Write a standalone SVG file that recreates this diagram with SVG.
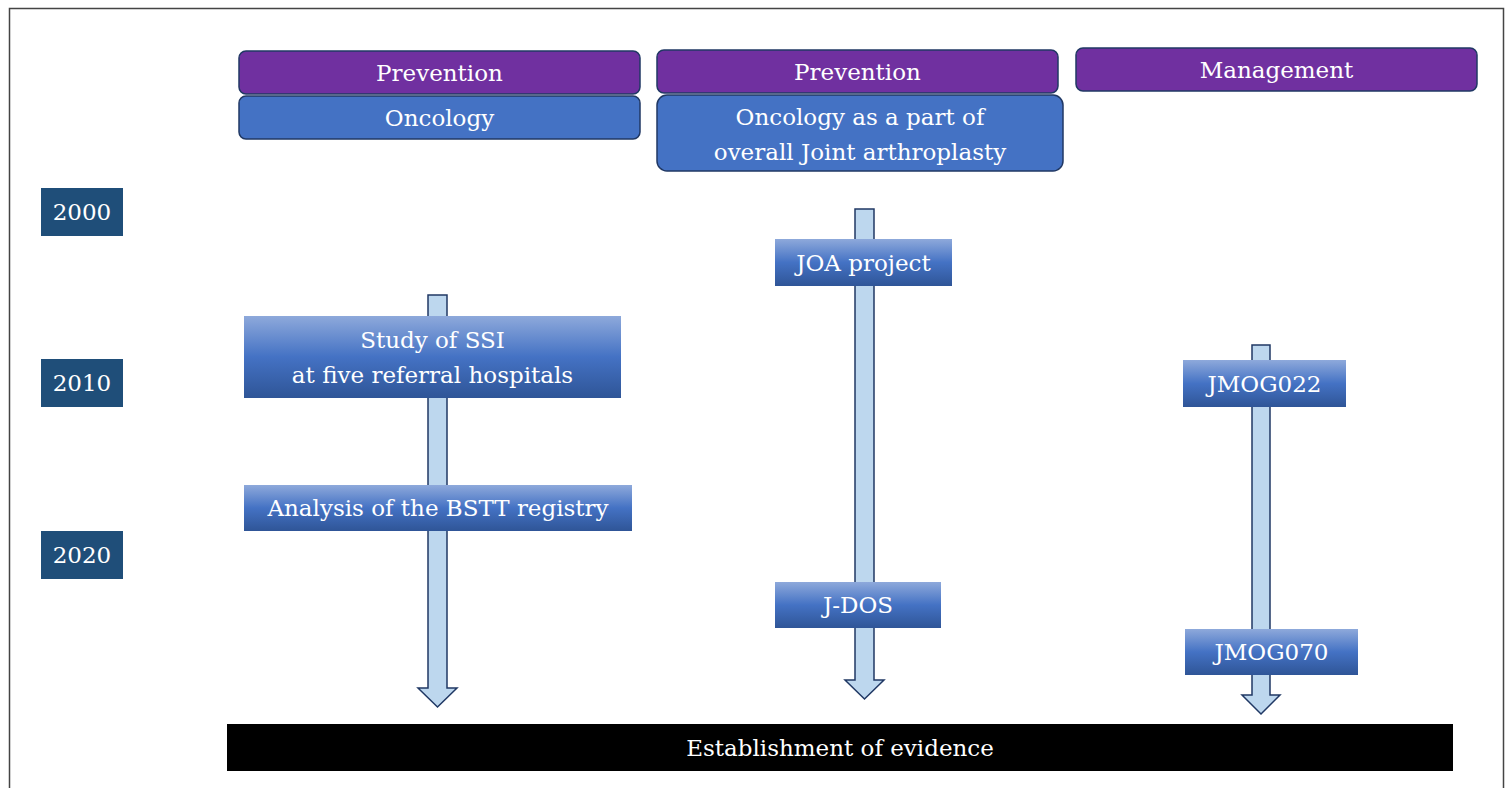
<svg xmlns="http://www.w3.org/2000/svg" width="1510" height="788" viewBox="0 0 1510 788">
<defs>
<linearGradient id="g" x1="0" y1="0" x2="0" y2="1">
<stop offset="0" stop-color="#8EA9DB"/>
<stop offset="0.5" stop-color="#4472C4"/>
<stop offset="1" stop-color="#2F5597"/>
</linearGradient>
<style>
.t{font-family:'DejaVu Serif',serif;font-size:23px;fill:#fff;text-anchor:middle;dominant-baseline:central}
.hp{fill:#7030A0;stroke:#203864;stroke-width:1.5}
.hb{fill:#4472C4;stroke:#203864;stroke-width:1.5}
.yr{fill:#1F4E79}
.ev{fill:url(#g)}
.arr{fill:#BDD7EE;stroke:#203864;stroke-width:1.5}
</style>
</defs>
<rect x="0" y="0" width="1510" height="788" fill="#fff"/>
<path d="M9.5 790 V8.5 H1503.5 V790" fill="none" stroke="#444" stroke-width="1.5"/>

<g id="connectors">
<path class="arr" d="M428 295 H447 V688 H457 L437.5 707 L418 688 H428 Z"/>
<path class="arr" d="M855 209 H874 V680 H884 L864.5 699 L845 680 H855 Z"/>
<path class="arr" d="M1252 345 H1270 V695 H1280 L1261 714 L1242 695 H1252 Z"/>
</g>

<g class="t">
<g id="h1"><rect class="hp" x="239" y="51" width="401" height="43" rx="7"/><text x="439.5" y="73">Prevention</text></g>
<g id="h2"><rect class="hp" x="657" y="50" width="401" height="43" rx="7"/><text x="857.5" y="72">Prevention</text></g>
<g id="h3"><rect class="hp" x="1076" y="48" width="401" height="43" rx="7"/><text x="1276.5" y="70">Management</text></g>
<g id="c1"><rect class="hb" x="239" y="96" width="401" height="43" rx="7"/><text x="439.5" y="118">Oncology</text></g>
<g id="c2"><rect class="hb" x="657" y="95" width="406" height="76" rx="10"/><text x="860" y="117">Oncology as a part of</text><text x="860" y="152">overall Joint arthroplasty</text></g>

<g id="y2000"><rect class="yr" x="41" y="188" width="82" height="48"/><text x="82" y="212">2000</text></g>
<g id="y2010"><rect class="yr" x="41" y="359" width="82" height="48"/><text x="82" y="383">2010</text></g>
<g id="y2020"><rect class="yr" x="41" y="531" width="82" height="48"/><text x="82" y="555">2020</text></g>

<g id="ssi"><rect class="ev" x="244" y="316" width="377" height="82"/><text x="432.5" y="340">Study of SSI</text><text x="432.5" y="375">at five referral hospitals</text></g>
<g id="bstt"><rect class="ev" x="244" y="485" width="388" height="46"/><text x="438" y="508">Analysis of the BSTT registry</text></g>
<g id="joa"><rect class="ev" x="775" y="239" width="177" height="47"/><text x="863.5" y="263">JOA project</text></g>
<g id="jdos"><rect class="ev" x="775" y="582" width="166" height="46"/><text x="858" y="605">J-DOS</text></g>
<g id="jmog022"><rect class="ev" x="1183" y="360" width="163" height="47"/><text x="1264.5" y="384">JMOG022</text></g>
<g id="jmog070"><rect class="ev" x="1185" y="629" width="173" height="46"/><text x="1271.5" y="652">JMOG070</text></g>

<g id="evidence"><rect x="227" y="724" width="1226" height="47" fill="#000"/><text x="840" y="748">Establishment of evidence</text></g>
</g>
</svg>
